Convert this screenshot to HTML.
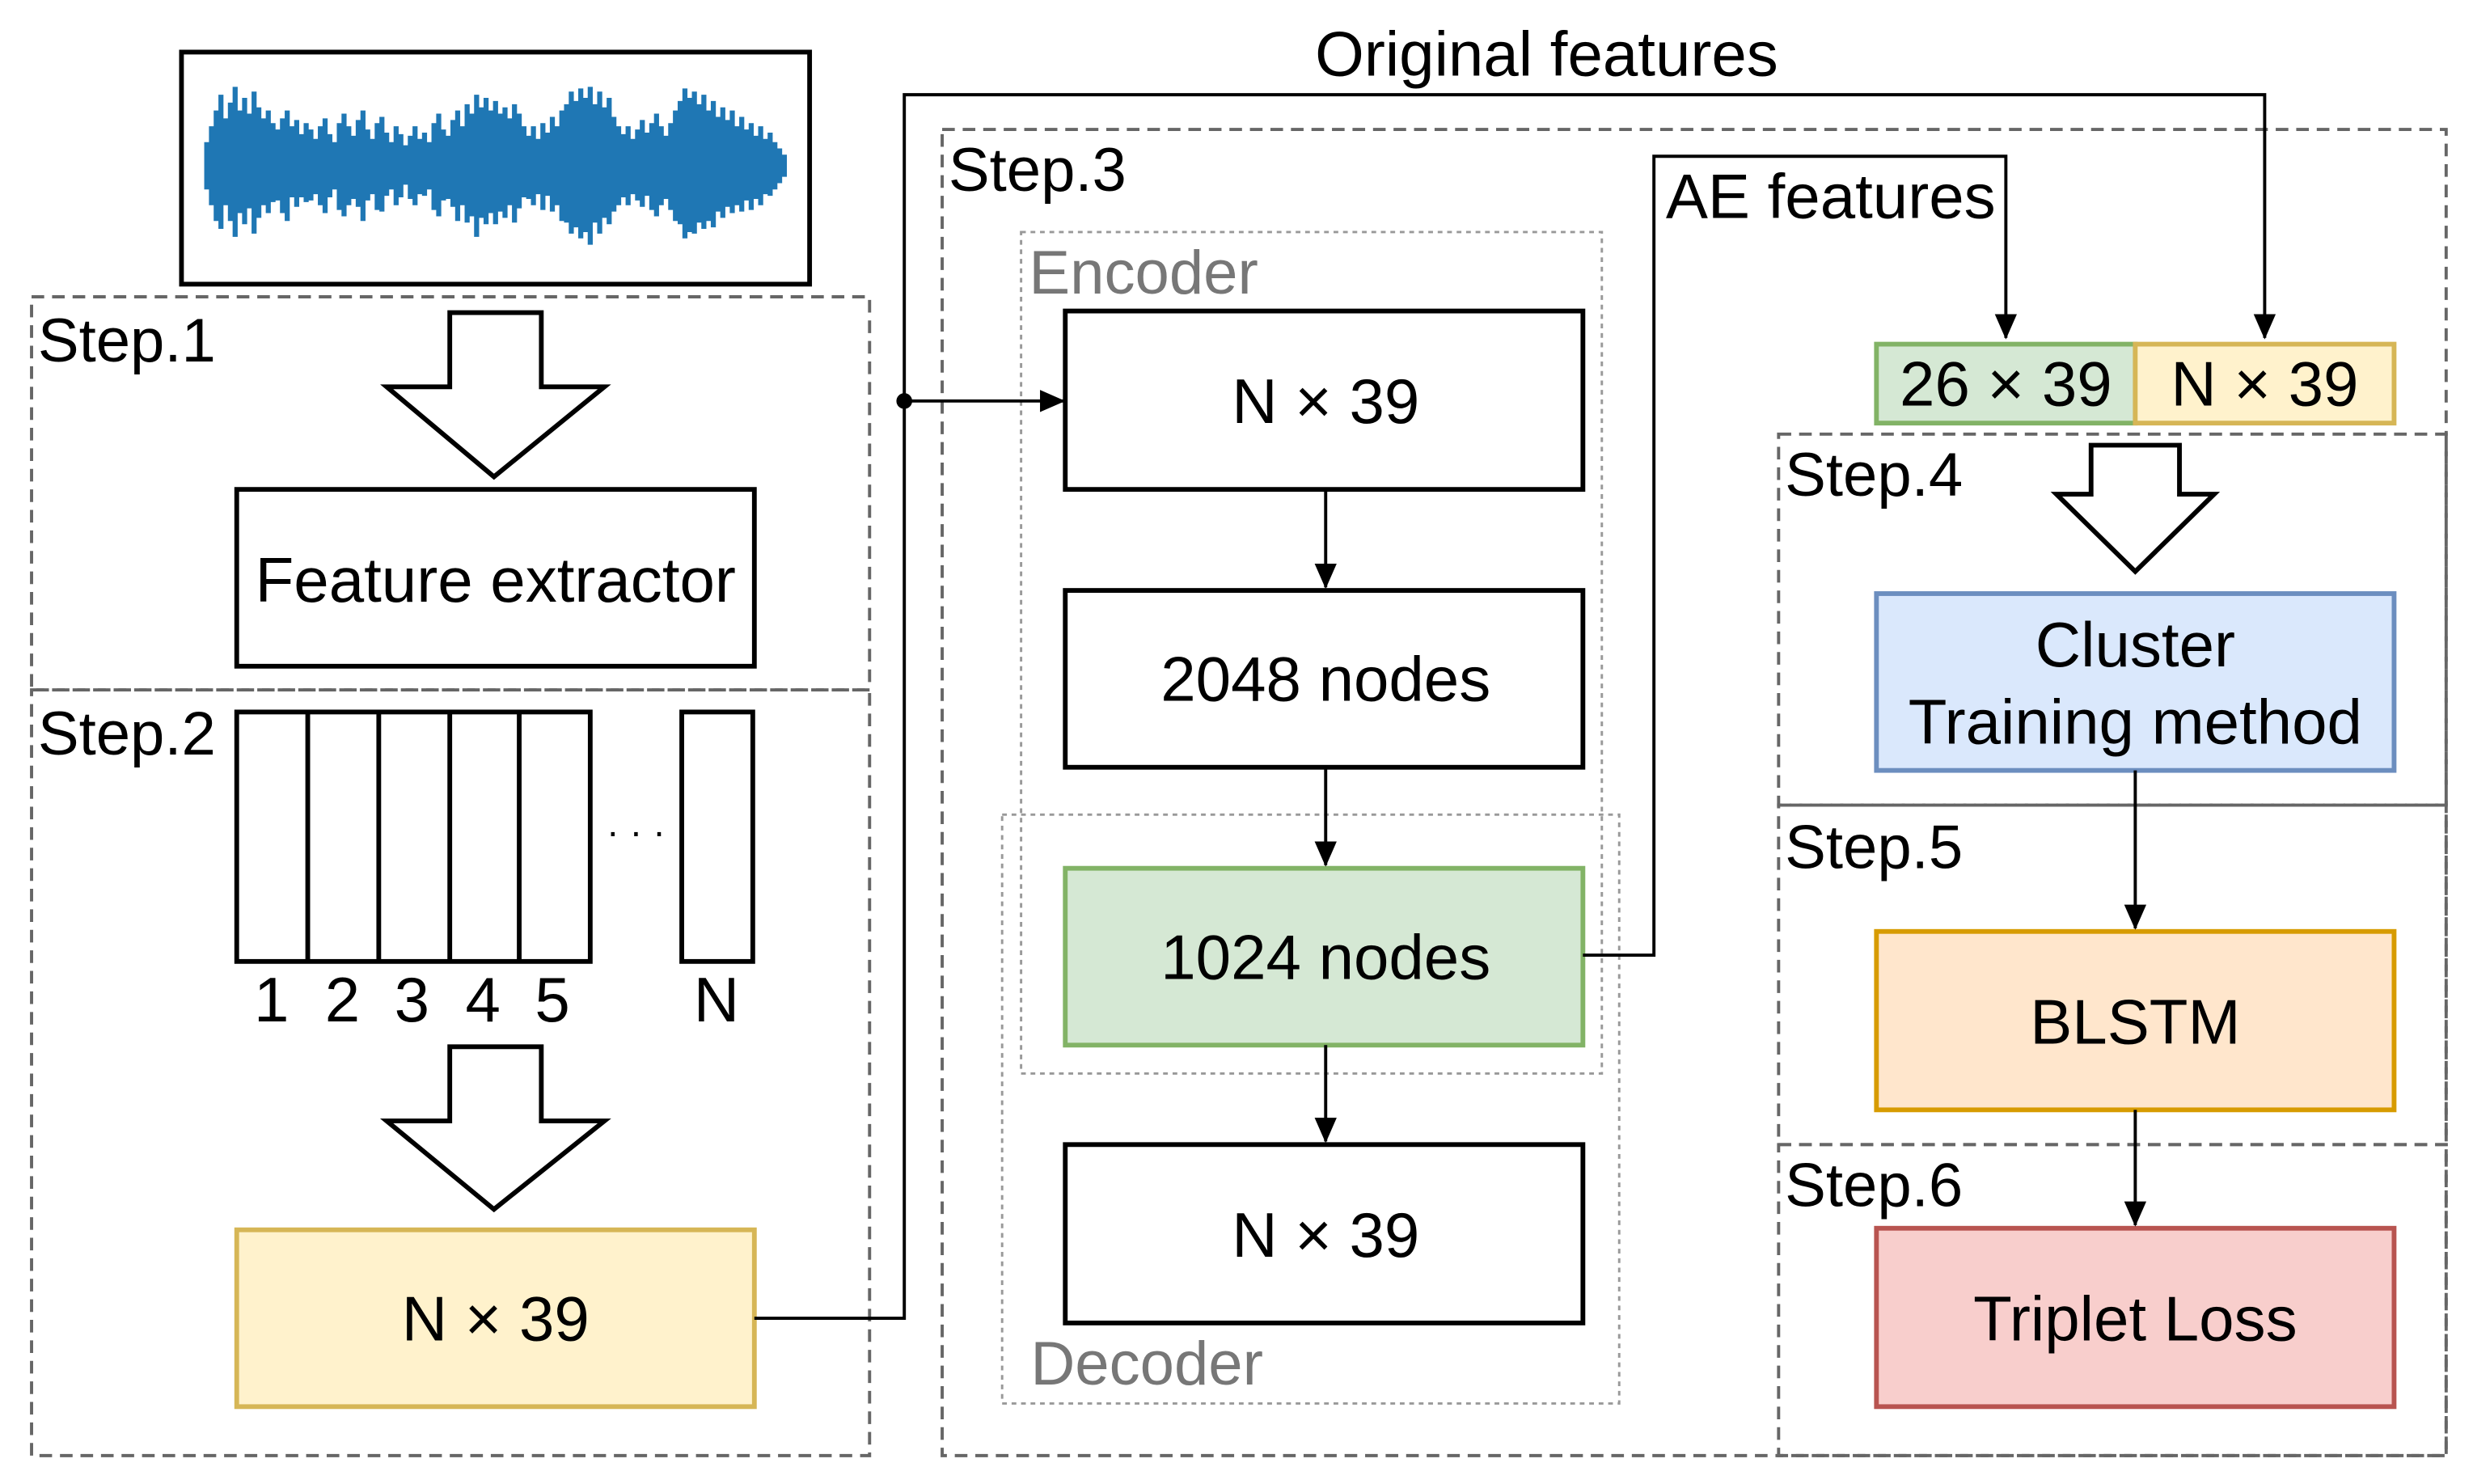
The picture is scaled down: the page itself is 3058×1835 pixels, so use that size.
<!DOCTYPE html>
<html><head><style>html,body{margin:0;padding:0;background:#fff}svg{display:block}</style></head>
<body>
<svg width="3058" height="1835" viewBox="0 0 1567 940" preserveAspectRatio="none" xmlns="http://www.w3.org/2000/svg" font-family="Liberation Sans, sans-serif">
<defs><marker id="b" markerWidth="16" markerHeight="16" refX="15" refY="8" orient="auto" markerUnits="userSpaceOnUse" viewBox="0 0 16 16"><path d="M0,1 L16,8 L0,15 Z" fill="#000"/></marker></defs>
<rect x="115" y="33" width="398" height="147" fill="#fff" stroke="#000" stroke-width="3"/>
<g stroke="#1f77b4" stroke-width="3.2">
<path d="M131,90v30M134,80v50M137,70v70M140,60v85M143,75v55M146,65v75M149,55v95M152,70v65M155,62v80M158,72v60M161,58v90M164,68v70M167,75v55M170,70v65M173,78v50M176,82v45M179,75v60M182,70v70M185,80v45M188,76v55M191,85v40M194,78v50M197,82v45M200,88v35M203,80v50M206,75v60M209,85v40M212,90v30M215,78v55M218,72v65M221,80v50M224,86v40M227,76v55M230,70v70M233,82v45M236,88v35M239,78v55M242,74v60M245,84v40M248,90v30M251,80v50M254,85v40M257,92v25M260,86v40M263,80v50M266,88v35M269,84v40M272,90v30M275,78v55M278,72v65M281,82v45M284,86v40M287,76v55M290,70v70M293,80v50M296,66v75M299,72v65M302,60v90M305,68v70M308,62v80M311,70v65M314,64v78M317,72v62M320,68v70M323,75v55M326,66v75M329,72v60M332,80v45M335,86v40M338,80v50M341,88v35M344,78v55M347,84v40M350,74v60M353,80v50M356,70v70M359,66v75M362,58v90M365,64v80M368,56v95M371,62v85M374,55v100M377,66v75M380,58v90M383,68v70M386,62v80M389,74v60M392,80v50M395,85v40M398,80v50M401,88v35M404,82v45M407,76v55M410,84v40M413,78v55M416,72v65M419,80v50M422,86v40M425,78v55M428,70v70M431,64v78M434,56v95M437,62v85M440,58v90M443,66v75M446,60v85M449,70v70M452,64v80M455,74v60M458,68v70M461,76v55M464,70v65M467,80v50M470,74v60M473,82v45M476,78v55M479,86v40M482,80v50M485,88v35M488,84v40M491,90v30M494,94v22M497,98v14"/>
</g>
<g fill="none" stroke="#666" stroke-width="2" stroke-dasharray="8,5">
<rect x="20" y="188" width="531" height="249"/><rect x="20" y="437" width="531" height="485"/>
<rect x="597" y="82" width="953" height="840"/>
<rect x="1127" y="275" width="423" height="235"/><rect x="1127" y="510" width="423" height="215"/><rect x="1127" y="725" width="423" height="197"/>
</g>
<g fill="none" stroke="#999" stroke-width="1.5" stroke-dasharray="3,3">
<rect x="647" y="147" width="368" height="533"/><rect x="635" y="516" width="391" height="373"/>
</g>
<g font-size="39" fill="#000"><text x="24" y="229">Step.1</text><text x="24" y="478">Step.2</text><text x="601" y="121">Step.3</text><text x="1131" y="314">Step.4</text><text x="1131" y="550">Step.5</text><text x="1131" y="764">Step.6</text></g>
<text x="652" y="186" font-size="39" fill="#777">Encoder</text><text x="653" y="877" font-size="39" fill="#777">Decoder</text>
<g fill="#fff" stroke="#000" stroke-width="3">
<path d="M285,198 L343,198 L343,245 L383,245 L313,302 L245,245 L285,245 Z"/>
<path d="M285,663 L343,663 L343,710 L383,710 L313,766 L245,710 L285,710 Z"/>
<path d="M1325,282 L1381,282 L1381,313 L1403,313 L1353,362 L1303,313 L1325,313 Z"/>
<rect x="150" y="310" width="328" height="112"/>
<rect x="150" y="451" width="224" height="158"/><rect x="432" y="451" width="45" height="158"/>
<rect x="675" y="197" width="328" height="113"/><rect x="675" y="374" width="328" height="112"/><rect x="675" y="725" width="328" height="113"/>
</g>
<g stroke="#000" stroke-width="3"><line x1="195" y1="451" x2="195" y2="609"/><line x1="240" y1="451" x2="240" y2="609"/><line x1="285" y1="451" x2="285" y2="609"/><line x1="329" y1="451" x2="329" y2="609"/></g>
<rect x="150" y="779" width="328" height="112" fill="#fff2cc" stroke="#d6b656" stroke-width="3"/>
<rect x="675" y="550" width="328" height="112" fill="#d5e8d4" stroke="#82b366" stroke-width="3"/>
<rect x="1189" y="218" width="164" height="50" fill="#d5e8d4" stroke="#82b366" stroke-width="3"/>
<rect x="1353" y="218" width="164" height="50" fill="#fff2cc" stroke="#d6b656" stroke-width="3"/>
<rect x="1189" y="376" width="328" height="112" fill="#dae8fc" stroke="#6c8ebf" stroke-width="3"/>
<rect x="1189" y="590" width="328" height="113" fill="#ffe6cc" stroke="#d79b00" stroke-width="3"/>
<rect x="1189" y="778" width="328" height="113" fill="#f8cecc" stroke="#b85450" stroke-width="3"/>
<g fill="none" stroke="#000" stroke-width="2">
<path d="M478,835 L573,835 L573,60 L1435,60 L1435,214" marker-end="url(#b)"/>
<path d="M573,254 L674,254" marker-end="url(#b)"/>
<path d="M1003,605 L1048,605 L1048,99 L1271,99 L1271,214" marker-end="url(#b)"/>
<path d="M840,310 L840,372" marker-end="url(#b)"/><path d="M840,486 L840,548" marker-end="url(#b)"/><path d="M840,662 L840,723" marker-end="url(#b)"/>
<path d="M1353,488 L1353,588" marker-end="url(#b)"/><path d="M1353,703 L1353,776" marker-end="url(#b)"/>
</g>
<circle cx="573" cy="254" r="5" fill="#000"/>
<g font-size="40" fill="#000" text-anchor="middle">
<text x="314" y="381">Feature extractor</text>
<text x="403" y="535" font-size="24">· · ·</text>
<text x="172" y="647">1</text><text x="217" y="647">2</text><text x="261" y="647">3</text><text x="306" y="647">4</text><text x="350" y="647">5</text><text x="454" y="647">N</text>
<text x="314" y="849">N × 39</text>
<text x="840" y="268">N × 39</text><text x="840" y="444">2048 nodes</text><text x="840" y="620">1024 nodes</text><text x="840" y="796">N × 39</text>
<text x="980" y="48">Original features</text><text x="1160" y="138">AE features</text>
<text x="1271" y="257">26 × 39</text><text x="1435" y="257">N × 39</text>
<text x="1353" y="422">Cluster</text><text x="1353" y="471">Training method</text>
<text x="1353" y="661">BLSTM</text><text x="1353" y="849">Triplet Loss</text>
</g>
</svg>
</body></html>
